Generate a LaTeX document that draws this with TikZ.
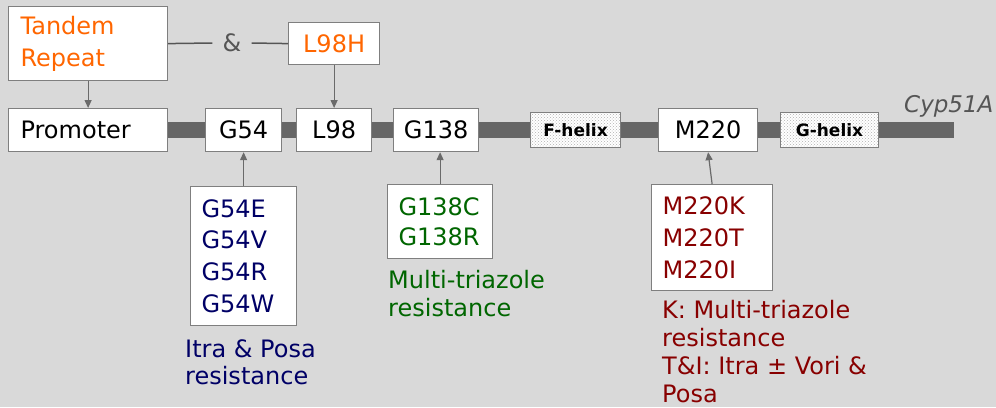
\documentclass[tikz,border=0pt]{standalone}
\usepackage{fontspec}
\setmainfont{DejaVu Sans}
\usetikzlibrary{patterns,arrows.meta}
\definecolor{bg}{HTML}{D9D9D9}
\definecolor{bargray}{HTML}{666666}
\definecolor{boxgray}{HTML}{7F7F7F}
\definecolor{linkgray}{HTML}{6A6A6A}
\definecolor{orangetxt}{HTML}{FF6600}
\definecolor{navytxt}{HTML}{000066}
\definecolor{greentxt}{HTML}{006600}
\definecolor{redtxt}{HTML}{880000}
\definecolor{cyptxt}{HTML}{555555}
\begin{document}
\begin{tikzpicture}[x=1pt,y=-1pt,
  font=\fontsize{24}{32}\selectfont,
  box/.style={draw=boxgray, line width=1.2pt, fill=white, inner sep=0pt,
    anchor=north west},
  helix/.style={draw=boxgray, line width=1pt, inner sep=0pt, anchor=north west,
    preaction={fill=white}, pattern=crosshatch dots, pattern color=gray!60,
    font=\fontsize{17}{20}\selectfont\bfseries},
  conn/.style={draw=linkgray, line width=1.2pt, -{Triangle[length=8pt,width=7pt]}},
  tie/.style={draw=cyptxt, line width=1.5pt},
  note/.style={anchor=base west, inner sep=0pt, align=left}]
% page and background
\fill[bg] (0,0) rectangle (996,407);
\useasboundingbox (0,0) rectangle (996,407);
% the gene bar
\fill[bargray] (167,122) rectangle (954,138);
\node[anchor=base west, inner sep=0pt, text=cyptxt, font=\fontsize{23}{28}\selectfont\itshape] (cyp) at (904,112) {Cyp51A};

% regions along the gene
\node[box, minimum width=159pt, minimum height=43pt, text width=135pt, align=left, inner xsep=12pt] (promoter) at (8,108) {Promoter};
\node[box, minimum width=76pt, minimum height=43pt] (g54) at (205,108) {G54};
\node[box, minimum width=75pt, minimum height=43pt] (l98) at (296,108) {L98};
\node[box, minimum width=85pt, minimum height=43pt] (g138) at (393,108) {G138};
\node[helix, minimum width=90pt, minimum height=35pt] (fhelix) at (530,112) {F-helix};
\node[box, minimum width=99pt, minimum height=43pt] (m220) at (658,108) {M220};
\node[helix, minimum width=98pt, minimum height=35pt] (ghelix) at (780,112) {G-helix};

% promoter and L98 changes
\node[box, minimum width=159pt, minimum height=74pt, text width=135pt, inner xsep=12pt, align=left, text=orangetxt] (tandem) at (8,6) {Tandem\\Repeat};
\node[box, minimum width=91pt, minimum height=42pt, text=orangetxt] (l98h) at (288,22) {L98H};
\node[text=cyptxt, inner xsep=10pt] (amp) at (232,43) {\&};
\draw[tie] (tandem.east) -- (amp.west);
\draw[tie] (amp.east) -- (l98h.west);
\draw[conn] (tandem) -- (promoter);
\draw[conn] (l98h) -- (l98);

% substitutions
\node[box, minimum width=106pt, minimum height=139pt, text width=84pt, inner xsep=11pt, align=left, text=navytxt, font=\fontsize{24}{31.7}\selectfont] (g54list) at (190,186) {G54E\\G54V\\G54R\\G54W};
\node[box, minimum width=105pt, minimum height=74pt, text width=83pt, inner xsep=11pt, align=left, text=greentxt, font=\fontsize{24}{30}\selectfont] (g138list) at (387,184) {G138C\\G138R};
\node[box, minimum width=121pt, minimum height=106pt, text width=99pt, inner xsep=11pt, align=left, text=redtxt] (m220list) at (651,184) {M220K\\M220T\\M220I};
\draw[conn] (g54list.north) -- (g54list.north |- g54.south);
\draw[conn] (g138list.north) -- (g138list.north |- g138.south);
\draw[conn] (m220list.north) -- (m220.south);

% resistance notes (anchored at the baseline of their last line)
\node[note, text=navytxt, font=\fontsize{24}{27}\selectfont] (g54note) at (185,384) {Itra \& Posa\\resistance};
\node[note, text=greentxt, font=\fontsize{24}{28}\selectfont] (g138note) at (388,316) {Multi-triazole\\resistance};
\node[note, text=redtxt, font=\fontsize{24}{28}\selectfont] (m220note) at (662,402) {K: Multi-triazole\\resistance\\T\&I: Itra ± Vori \&\\Posa};
\end{tikzpicture}
\end{document}
